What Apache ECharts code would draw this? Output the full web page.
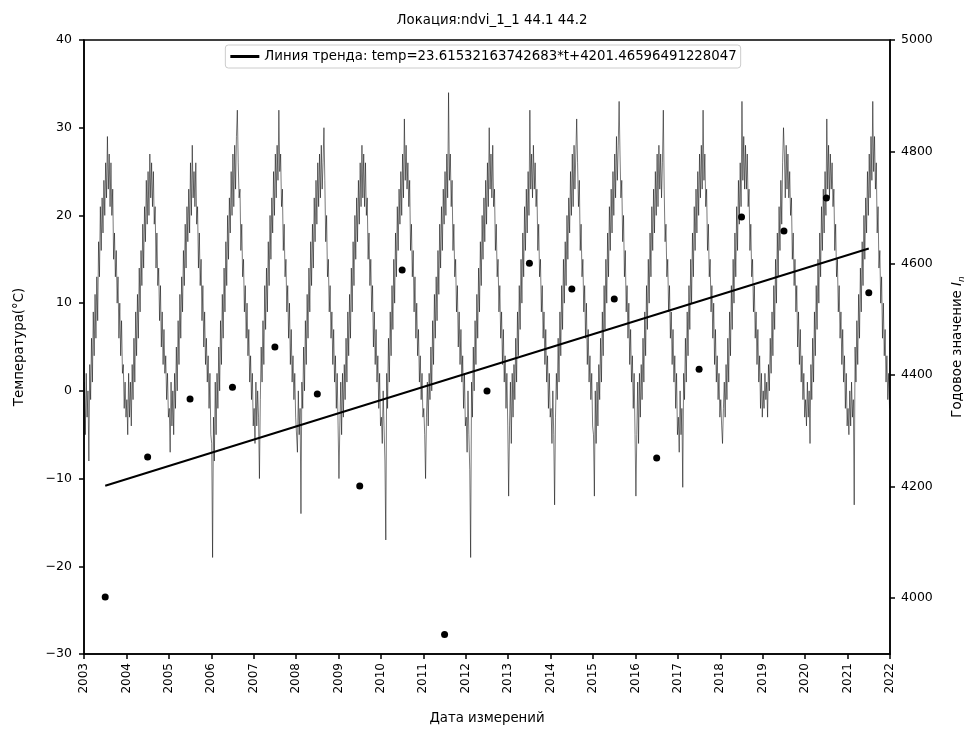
<!DOCTYPE html>
<html>
<head>
<meta charset="utf-8">
<script src="https://cdn.jsdelivr.net/npm/echarts@6/dist/echarts.min.js"></script>
<style>html,body{margin:0;padding:0;background:#fff;}#c{width:967px;height:731px;}</style>
</head>
<body>
<div id="c"></div>
<script>
// Temperature samples (~weekly steps, 48 per year), °C
var t2003 = [1,-5,2,-3,0,-8,3,-1,6,1,9,4,11,6,13,8,17,13,21,16,22,18,24,20,26,22,29,23,27,21,26,20,23,15,18,13,16,10,13,6,10,4,8,2,3,-2,1,-3];
var t2004 = [-1,-5,2,-3,1,-4,3,-1,6,1,9,4,11,6,14,9,16,12,19,14,21,17,24,19,25,20,27,22,26,21,25,19,21,14,18,12,14,8,12,5,9,3,7,2,4,-1,2,-3];
var t2005 = [-2,-7,1,-4,0,-5,2,-2,5,0,8,3,11,6,13,9,16,12,19,14,21,17,23,18,26,20,28,22,25,21,26,19,21,14,18,12,15,8,12,5,9,3,6,1,4,-2,2,-5];
var t2006 = [-6,-19,-3,-8,1,-5,2,-2,5,0,8,3,11,6,14,9,17,12,20,15,22,18,25,20,27,21,28,23,29,32,26,22,23,16,19,13,15,9,12,6,10,4,7,1,4,-1,2,-4];
var t2007 = [-2,-6,1,-4,0,-3,-10,-1,5,1,8,3,12,7,14,9,17,12,20,15,22,18,25,20,27,22,28,24,32,25,27,21,23,16,19,13,15,9,12,6,10,3,7,1,4,-1,2,-3];
var t2008 = [-3,-7,0,-5,-2,-14,1,-2,5,0,8,3,11,6,14,9,17,12,19,14,22,17,24,19,26,21,27,22,28,23,26,30,24,17,20,13,15,9,12,6,9,3,7,1,4,-2,2,-4];
var t2009 = [-10,-4,1,-5,2,-3,3,-1,6,1,9,4,11,6,14,9,17,12,20,15,22,17,24,19,26,21,28,22,27,21,26,20,22,15,18,12,15,9,12,5,9,3,7,1,4,-2,2,-4];
var t2010 = [-3,-6,0,-4,-8,-17,2,-2,6,1,9,4,12,7,15,10,18,13,21,16,23,19,25,20,27,22,31,24,28,23,26,21,24,16,19,13,16,9,13,6,10,4,7,1,4,-1,2,-3];
var t2011 = [-2,-5,-10,-3,1,-4,2,-1,5,0,8,3,11,6,13,8,16,11,19,14,21,16,23,19,25,20,27,22,34,24,27,21,24,16,19,13,15,9,12,5,9,3,7,1,4,-2,2,-4];
var t2012 = [-3,-7,0,-5,-9,-19,1,-3,5,0,8,3,11,6,14,9,17,12,20,15,22,17,24,19,26,21,30,23,27,22,28,21,23,16,19,13,15,9,12,6,9,3,7,1,4,-2,2,-4];
var t2013 = [-12,-4,1,-6,2,-3,3,-1,6,1,9,4,12,7,15,10,18,13,21,16,23,18,25,20,32,23,27,22,28,23,26,21,23,16,19,13,15,9,12,6,9,3,7,1,4,-2,2,-3];
var t2014 = [-2,-6,0,-5,-13,-3,2,-1,6,1,9,4,12,7,15,10,17,12,20,15,22,18,25,20,27,21,28,23,27,31,26,21,24,16,19,13,15,9,12,6,10,3,7,1,4,-1,2,-4];
var t2015 = [-5,-12,0,-6,1,-4,3,-1,6,1,9,4,12,7,15,10,18,13,21,16,23,18,25,20,27,22,29,24,28,33,27,22,24,17,20,13,16,9,12,6,10,3,7,1,4,-2,2,-5];
var t2016 = [-12,-5,1,-6,2,-3,3,-1,6,1,9,4,12,7,15,10,18,13,21,16,23,18,25,20,27,21,28,23,27,22,26,32,23,17,19,13,15,9,12,6,9,3,7,1,4,-2,2,-5];
var t2017 = [-3,-7,0,-5,-2,-11,2,-1,6,1,9,4,12,7,15,10,18,13,21,16,23,18,25,20,27,22,28,23,32,24,27,21,23,16,19,13,15,9,12,6,10,3,7,1,4,-1,2,-3];
var t2018 = [-1,-4,-6,-2,1,-3,3,-1,6,1,9,4,12,7,15,10,18,13,21,16,24,19,26,21,33,24,29,23,28,23,27,21,23,16,19,13,15,9,12,6,9,3,7,1,4,-2,2,-3];
var t2019 = [0,-2,2,-1,1,-3,3,0,6,2,9,4,12,7,15,10,18,13,21,16,24,19,26,30,27,22,28,23,27,22,25,20,22,15,18,12,15,9,12,5,9,3,7,1,4,-1,2,-3];
var t2020 = [-1,-4,1,-3,0,-6,3,-1,6,1,9,4,12,7,15,10,18,13,21,16,23,18,25,20,31,23,28,22,27,23,26,21,23,16,19,13,15,9,12,6,9,3,7,1,4,-2,2,-4];
var t2021 = [-2,-5,0,-4,1,-3,-1,-13,5,1,8,3,11,6,14,9,17,12,20,15,22,18,25,20,27,22,29,24,33,25,29,23,26,18,21,14,16,10,13,6,10,4,7,1,4,-1,2,-2];
var tempYears = [2003,2004,2005,2006,2007,2008,2009,2010,2011,2012,2013,2014,2015,2016,2017,2018,2019,2020,2021];
var tempByYear = [t2003,t2004,t2005,t2006,t2007,t2008,t2009,t2010,t2011,t2012,t2013,t2014,t2015,t2016,t2017,t2018,t2019,t2020,t2021];

// Annual values I_n (right axis), placed mid-year
var annualX = [2003.5,2004.5,2005.5,2006.5,2007.5,2008.5,2009.5,2010.5,2011.5,2012.5,2013.5,2014.5,2015.5,2016.5,2017.5,2018.5,2019.5,2020.5,2021.5];
var annualVal = [4002,4253,4357,4378,4450,4366,4201,4588,3935,4371,4600,4554,4536,4251,4410,4683,4658,4717,4547];

// Trend coefficients from the legend text (t = years since 2003.5)
var trendSlope = 23.61532163742683;
var trendIntercept = 4201.46596491228;
var trendT = [0, 18];

var leftTicks = [-30,-20,-10,0,10,20,30,40];
var rightTicks = [4000,4200,4400,4600,4800,5000];
var legendText = 'Линия тренда: temp=23.61532163742683*t+4201.46596491228047';

var tempData = [];
for (var k = 0; k < tempYears.length; k++) {
  var arr = tempByYear[k];
  for (var i = 0; i < arr.length; i++) {
    tempData.push([tempYears[k] + (i + 0.5) / arr.length, arr[i]]);
  }
}
var dots = annualX.map(function(x, i){ return [x, annualVal[i]]; });
var trend = trendT.map(function(t){ return [annualX[0] + t, trendIntercept + trendSlope * t]; });

function minus(v){ return v < 0 ? '\u2212' + Math.abs(v) : String(v); }

var FONT = 'DejaVu Sans';
var chart = echarts.init(document.getElementById('c'), null, {renderer:'canvas'});
chart.setOption({
  animation: false,
  backgroundColor: '#fff',
  textStyle: {fontFamily: FONT},
  title: {
    text: 'Локация:ndvi_1_1 44.1 44.2',
    left: 487, top: 9, textAlign: 'center',
    textStyle: {fontFamily: FONT, fontSize: 13.3, fontWeight: 'normal', color: '#000'}
  },
  legend: {
    data: [{name: legendText, icon: 'rect'}],
    top: 45, left: 'center',
    itemWidth: 29, itemHeight: 3,
    itemGap: 8,
    backgroundColor: '#fff', borderColor: '#ccc', borderWidth: 1, borderRadius: 3,
    padding: [5, 4, 5, 5],
    textStyle: {fontFamily: FONT, fontSize: 13.3, color: '#000'}
  },
  grid: {left: 84, right: 77, top: 40, bottom: 77, outerBoundsMode: 'none', containLabel: false,
         show: true, borderColor: '#000', borderWidth: 1.5, backgroundColor: 'transparent'},
  xAxis: {
    type: 'value', min: 2003, max: 2022, interval: 1,
    name: 'Дата измерений', nameLocation: 'middle', nameGap: 58,
    nameTextStyle: {fontFamily: FONT, fontSize: 13.3, color: '#000'},
    axisLine: {show: true, onZero: false, lineStyle: {color: '#000', width: 1.5}},
    axisTick: {show: true, length: 5, lineStyle: {color: '#000', width: 1.5}},
    axisLabel: {rotate: 90, fontFamily: FONT, fontSize: 12, color: '#000', margin: 9, formatter: function(v){ return String(v); }},
    splitLine: {show: false}
  },
  yAxis: [{
    type: 'value', min: -30, max: 40, interval: 10, position: 'left',
    name: 'Температура(°C)', nameLocation: 'middle', nameGap: 58, nameRotate: 90,
    nameTextStyle: {fontFamily: FONT, fontSize: 13.3, color: '#000'},
    axisLine: {show: true, onZero: false, lineStyle: {color: '#000', width: 1.5}},
    axisTick: {show: true, length: 5, lineStyle: {color: '#000', width: 1.5}},
    axisLabel: {fontFamily: FONT, fontSize: 12.5, color: '#000', margin: 12, formatter: minus},
    splitLine: {show: false}
  }, {
    type: 'value', min: 3900, max: 5000, position: 'right',
    name: '{a|Годовое значение }{i|I}{s|n}', nameLocation: 'middle', nameGap: 60, nameRotate: 90,
    nameTextStyle: {fontFamily: FONT, fontSize: 13.3, color: '#000',
      rich: {a: {fontFamily: FONT, fontSize: 13.3, color: '#000'},
             i: {fontFamily: FONT, fontSize: 13.3, fontStyle: 'italic', color: '#000'},
             s: {fontFamily: FONT, fontSize: 9, fontStyle: 'italic', color: '#000', verticalAlign: 'bottom', padding: [7,0,0,0]}}},
    axisLine: {show: true, onZero: false, lineStyle: {color: '#000', width: 1.5}},
    axisTick: {show: true, length: 5, customValues: rightTicks, lineStyle: {color: '#000', width: 1.5}},
    axisLabel: {fontFamily: FONT, fontSize: 12.5, color: '#000', margin: 11, customValues: rightTicks, formatter: function(v){ return String(v); }},
    splitLine: {show: false}
  }],
  series: [{
    name: 'temp', type: 'line', data: tempData, yAxisIndex: 0,
    showSymbol: false, symbol: 'none', sampling: null,
    lineStyle: {color: '#000', width: 0.7, opacity: 0.75},
    z: 2, silent: true
  }, {
    name: legendText, type: 'line', data: trend, yAxisIndex: 1,
    showSymbol: false, symbol: 'none',
    lineStyle: {color: '#000', width: 2}, itemStyle: {color: '#000'},
    z: 4
  }, {
    name: 'annual', type: 'scatter', data: dots, yAxisIndex: 1,
    symbol: 'circle', symbolSize: 7, itemStyle: {color: '#000', opacity: 1},
    z: 5
  }]
});
</script>
</body>
</html>
